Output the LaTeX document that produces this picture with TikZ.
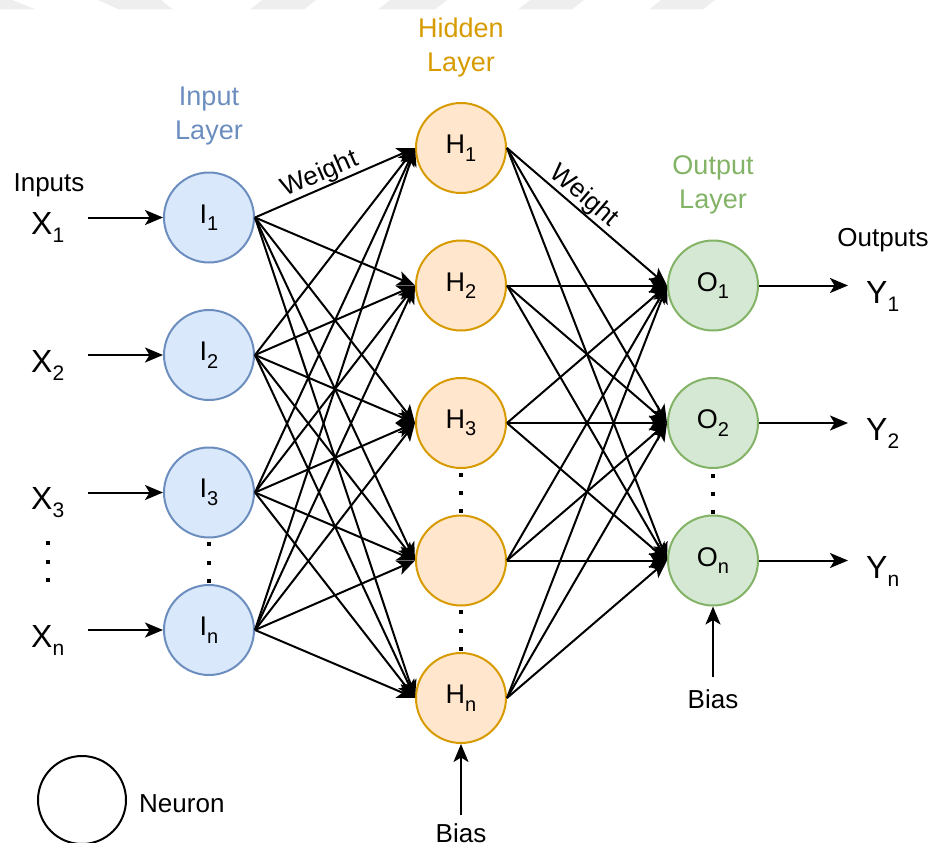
\documentclass[tikz,border=0pt]{standalone}
\usepackage{fontspec}
\setmainfont{Liberation Sans}
\usetikzlibrary{arrows.meta}

\definecolor{inFill}{HTML}{DAE8FC}
\definecolor{inDraw}{HTML}{6C8EBF}
\definecolor{hidFill}{HTML}{FFE6CC}
\definecolor{hidDraw}{HTML}{D79B00}
\definecolor{outFill}{HTML}{D5E8D4}
\definecolor{outDraw}{HTML}{82B366}
\definecolor{bandGray}{HTML}{EEEEEE}

% subscript: smaller digit/letter set below the baseline
\newcommand{\lsub}[2][20]{\raisebox{-7.5pt}{\fontsize{#1}{#1}\selectfont #2}}
\newcommand{\nlab}[2]{#1\lsub{#2}}
\newcommand{\xlab}[2]{{\fontsize{32}{32}\selectfont #1}\raisebox{-8pt}{\fontsize{21}{21}\selectfont #2}}

\tikzset{
  neuron/.style={circle, minimum size=90pt, inner sep=0pt, line width=2pt,
                 font=\fontsize{27}{27}\selectfont},
  inneuron/.style={neuron, draw=inDraw, fill=inFill},
  hidneuron/.style={neuron, draw=hidDraw, fill=hidFill},
  outneuron/.style={neuron, draw=outDraw, fill=outFill},
  conn/.style={line width=2pt, -{Stealth[length=18pt, width=15pt, inset=4.5pt]}},
  lbl/.style={inner sep=0pt, font=\fontsize{26}{26}\selectfont},
  title/.style={inner sep=0pt, align=center, font=\fontsize{27}{34}\selectfont},
  wlbl/.style={inner sep=1pt, font=\fontsize{26}{26}\selectfont, sloped, above},
  sqdot/.style={fill=black},
}

% one small square of a vertical ellipsis
\newcommand{\sqdot}[2]{\fill[sqdot] (#1-2,#2-2) rectangle ++(4,4);}

\begin{document}
\begin{tikzpicture}[x=1pt, y=-1pt]
\useasboundingbox (0,0) rectangle (934,843);

% faint slanted band along the top edge
\fill[bandGray] (0,0) -- (12,0) -- (36,9.5) -- (0,9.5) -- cycle;
\fill[bandGray] (98,0) -- (161,0) -- (173,9.5) -- (119,9.5) -- cycle;
\foreach \a/\b in {262/316, 390/447, 530/584, 661/715} {
  \fill[bandGray] (\a,0) -- (\b,0) -- (\b-12,9.5) -- (\a-12,9.5) -- cycle;
}

% layer titles
\node[title, text=inDraw]  (tIn)  at (209,116) {Input\\Layer};
\node[title, text=hidDraw] (tHid) at (461,48)  {Hidden\\Layer};
\node[title, text=outDraw] (tOut) at (713,185) {Output\\Layer};

% input layer
\node[inneuron] (I1) at (209,217.5) {\nlab{I}{1}};
\node[inneuron] (I2) at (209,355)   {\nlab{I}{2}};
\node[inneuron] (I3) at (209,492.5) {\nlab{I}{3}};
\node[inneuron] (I4) at (209,630)   {\nlab{I}{n}};

% hidden layer
\node[hidneuron] (H1) at (461,148)   {\nlab{H}{1}};
\node[hidneuron] (H2) at (461,285.5) {\nlab{H}{2}};
\node[hidneuron] (H3) at (461,423)   {\nlab{H}{3}};
\node[hidneuron] (H4) at (461,560.5) {};
\node[hidneuron] (H5) at (461,698)   {\nlab{H}{n}};

% output layer
\node[outneuron] (O1) at (713,285.5) {\nlab{O}{1}};
\node[outneuron] (O2) at (713,423)   {\nlab{O}{2}};
\node[outneuron] (O3) at (713,560.5) {\nlab{O}{n}};

% input -> hidden weights
\foreach \i in {1,...,4} {
  \foreach \h in {1,...,5} {
    \draw[conn] (I\i.east) -- (H\h.west);
  }
}
% hidden -> output weights
\foreach \h in {1,...,5} {
  \foreach \o in {1,...,3} {
    \draw[conn] (H\h.east) -- (O\o.west);
  }
}
\path (I1.east) -- node[wlbl, pos=0.44] (w1) {Weight} (H1.west);
\path (H1.east) -- node[wlbl, pos=0.425] (w2) {Weight} (O1.west);

% inputs
\node[lbl, anchor=base] (inputs) at (49,191) {Inputs};
\foreach \i/\y/\s in {1/217.5/1, 2/355/2, 3/492.5/3, 4/630/n} {
  \coordinate (xs\i) at (88,\y);
  \draw[conn] (xs\i) -- (I\i.west);
  \node[inner sep=0pt, anchor=base west] (x\i) at (31,\y+17) {\xlab{X}{\s}};
}

% outputs
\node[lbl, anchor=base] (outputs) at (883,246) {Outputs};
\foreach \o/\y/\s in {1/285.5/1, 2/423/2, 3/560.5/n} {
  \coordinate (ye\o) at (848,\y);
  \draw[conn] (O\o.east) -- (ye\o);
  \node[inner sep=0pt, anchor=base west] (y\o) at (866,\y+17.5) {\xlab{Y}{\s}};
}

% bias inputs
\coordinate (hb) at (461,815);
\draw[conn] (hb) -- (H5.south);
\node[lbl, anchor=base] (hbias) at (461,842) {Bias};
\coordinate (ob) at (713,677);
\draw[conn] (ob) -- (O3.south);
\node[lbl, anchor=base] (obias) at (713,708) {Bias};

% ellipsis dots
\foreach \y in {543,562,580} { \sqdot{48}{\y} }
\foreach \y in {544,563,581} { \sqdot{209}{\y} }
\foreach \y in {475,493,511,612,631,649} { \sqdot{461}{\y} }
\foreach \y in {476,494,512} { \sqdot{713}{\y} }

% legend
\node[circle, draw, line width=2pt, minimum size=88pt, inner sep=0pt] (legend) at (82,800) {};
\node[lbl, anchor=base west] (neuron) at (139,812) {Neuron};
\end{tikzpicture}
\end{document}
